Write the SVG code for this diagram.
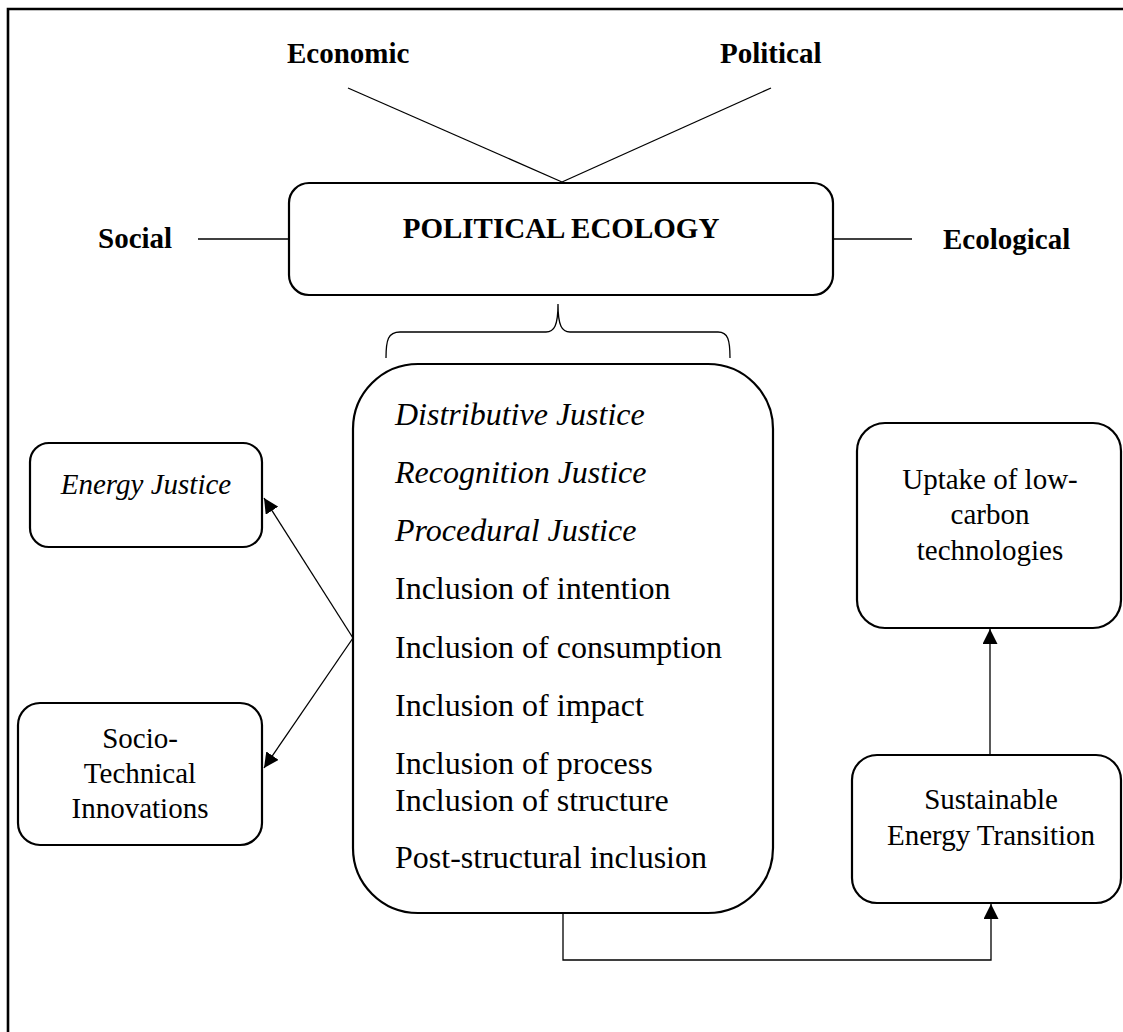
<svg xmlns="http://www.w3.org/2000/svg" width="1123" height="1032" viewBox="0 0 1123 1032">
  <style>
    .box { fill: #fff; stroke: #000; stroke-width: 2.2; }
    .line { fill: none; stroke: #000; stroke-width: 1.3; }
    .dim { font-family: "Liberation Serif", "Times New Roman", serif; font-weight: bold; font-size: 29px; fill: #000; }
    .lbl { font-family: "Liberation Serif", "Times New Roman", serif; font-size: 29px; fill: #000; }
    .item { font-family: "Liberation Serif", "Times New Roman", serif; font-size: 32px; fill: #000; }
    .it { font-style: italic; }
  </style>
  <defs>
    <marker id="arrow" viewBox="0 0 10 10" refX="10" refY="5" markerWidth="15" markerHeight="15" markerUnits="userSpaceOnUse" orient="auto">
      <path d="M0,0 L10,5 L0,10 Z" fill="#000"/>
    </marker>
  </defs>

  <rect x="0" y="0" width="1123" height="1032" fill="#fff"/>
  <!-- outer frame (open to the right and bottom) -->
  <path d="M8,1040 L8,9 L1130,9" fill="none" stroke="#000" stroke-width="2.6"/>

  <!-- dimension labels -->
  <g id="dim-economic"><text class="dim" x="287" y="63">Economic</text></g>
  <g id="dim-political"><text class="dim" x="720" y="63">Political</text></g>
  <g id="dim-social"><text class="dim" x="98" y="248">Social</text></g>
  <g id="dim-ecological"><text class="dim" x="943" y="249">Ecological</text></g>

  <!-- connectors -->
  <g id="connectors">
    <line class="line" x1="348" y1="88" x2="562" y2="182"/>
    <line class="line" x1="562" y1="182" x2="771" y2="88"/>
    <line class="line" x1="198" y1="239" x2="289" y2="239"/>
    <line class="line" x1="833" y1="239" x2="912" y2="239"/>
    <!-- brace under Political Ecology -->
    <path class="line" d="M386,358 C386,340 388,332 400,332 L546,332 C554,332 558,326 558,304 C558,326 562,332 570,332 L718,332 C728,332 730,340 730,358"/>
    <line class="line" x1="353" y1="638" x2="264" y2="498" marker-end="url(#arrow)"/>
    <line class="line" x1="353" y1="638" x2="264" y2="768" marker-end="url(#arrow)"/>
    <polyline class="line" points="563,913 563,960 991,960 991,904" marker-end="url(#arrow)"/>
    <line class="line" x1="990" y1="755" x2="990" y2="629" marker-end="url(#arrow)"/>
  </g>

  <g id="political-ecology">
    <rect class="box" x="289" y="183" width="544" height="112" rx="20" ry="20"/>
    <text class="dim" x="561" y="238" text-anchor="middle">POLITICAL ECOLOGY</text>
  </g>

  <g id="justice-inclusion">
    <rect class="box" x="353" y="364" width="420" height="549" rx="65" ry="65"/>
    <text class="item it" x="395" y="425">Distributive Justice</text>
    <text class="item it" x="395" y="483">Recognition Justice</text>
    <text class="item it" x="395" y="541">Procedural Justice</text>
    <text class="item" x="395" y="599">Inclusion of intention</text>
    <text class="item" x="395" y="658">Inclusion of consumption</text>
    <text class="item" x="395" y="716">Inclusion of impact</text>
    <text class="item" x="395" y="774">Inclusion of process</text>
    <text class="item" x="395" y="811">Inclusion of structure</text>
    <text class="item" x="395" y="868">Post-structural inclusion</text>
  </g>

  <g id="energy-justice">
    <rect class="box" x="30" y="443" width="232" height="104" rx="19" ry="19"/>
    <text class="lbl it" x="146" y="494" text-anchor="middle">Energy Justice</text>
  </g>

  <g id="socio-technical">
    <rect class="box" x="18" y="703" width="244" height="142" rx="22" ry="22"/>
    <text class="lbl" x="140" y="748" text-anchor="middle">Socio-</text>
    <text class="lbl" x="140" y="783" text-anchor="middle">Technical</text>
    <text class="lbl" x="140" y="818" text-anchor="middle">Innovations</text>
  </g>

  <g id="uptake">
    <rect class="box" x="857" y="423" width="264" height="205" rx="28" ry="28"/>
    <text class="lbl" x="990" y="489" text-anchor="middle">Uptake of low-</text>
    <text class="lbl" x="990" y="524" text-anchor="middle">carbon</text>
    <text class="lbl" x="990" y="560" text-anchor="middle">technologies</text>
  </g>

  <g id="sustainable-transition">
    <rect class="box" x="852" y="755" width="269" height="148" rx="25" ry="25"/>
    <text class="lbl" x="991" y="809" text-anchor="middle">Sustainable</text>
    <text class="lbl" x="991" y="845" text-anchor="middle">Energy Transition</text>
  </g>
</svg>
